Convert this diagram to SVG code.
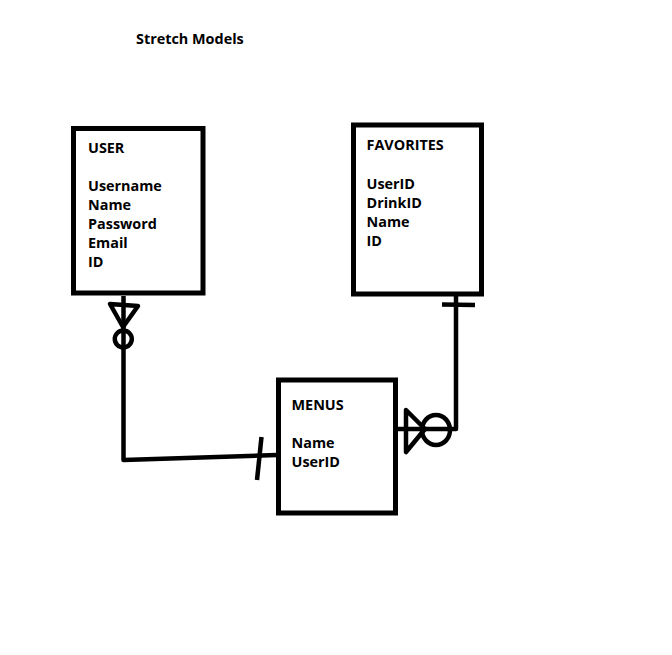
<svg xmlns="http://www.w3.org/2000/svg" width="672" height="655" viewBox="0 0 672 655">
<style>
.box{fill:none;stroke:#000;stroke-width:5}
.ln{fill:none;stroke:#000;stroke-width:4.5;stroke-linecap:butt;stroke-linejoin:round}
.t{font-family:"Open Sans","Liberation Sans",sans-serif;font-weight:700;font-size:14.4px;fill:#000}
</style>
<rect width="672" height="655" fill="#fff"/>
<text class="t" x="136" y="43.5">Stretch Models</text>
<g id="user">
<rect class="box" x="73.5" y="128.5" width="129.5" height="164.5"/>
<text class="t" x="88" y="152.5">USER</text>
<text class="t" x="88" y="191">Username</text>
<text class="t" x="88" y="210">Name</text>
<text class="t" x="88" y="229">Password</text>
<text class="t" x="88" y="248">Email</text>
<text class="t" x="88" y="267">ID</text>
</g>
<g id="favorites">
<rect class="box" x="353.5" y="125" width="128" height="169"/>
<text class="t" x="366.5" y="149.5">FAVORITES</text>
<text class="t" x="366.5" y="188.5">UserID</text>
<text class="t" x="366.5" y="207.5">DrinkID</text>
<text class="t" x="366.5" y="226.5">Name</text>
<text class="t" x="366.5" y="245.5">ID</text>
</g>
<g id="menus">
<rect class="box" x="278.5" y="380" width="117" height="133"/>
<text class="t" x="291.5" y="409.5">MENUS</text>
<text class="t" x="291.5" y="447.5">Name</text>
<text class="t" x="291.5" y="466.5">UserID</text>
</g>
<g id="connectors">
<polyline class="ln" points="123.5,296 123.5,460 277,455"/>
<polygon class="ln" points="110,304 138,306 123,327"/>
<circle class="ln" cx="123.3" cy="339" r="8.5"/>
<line class="ln" x1="261.5" y1="437" x2="257" y2="480"/>
<polyline class="ln" points="456,296 456,429 397,429"/>
<line class="ln" x1="442" y1="304.5" x2="475" y2="305"/>
<polygon class="ln" points="406,410 425,429 406,452"/>
<ellipse class="ln" cx="436" cy="430" rx="14" ry="15"/>
</g>
</svg>
